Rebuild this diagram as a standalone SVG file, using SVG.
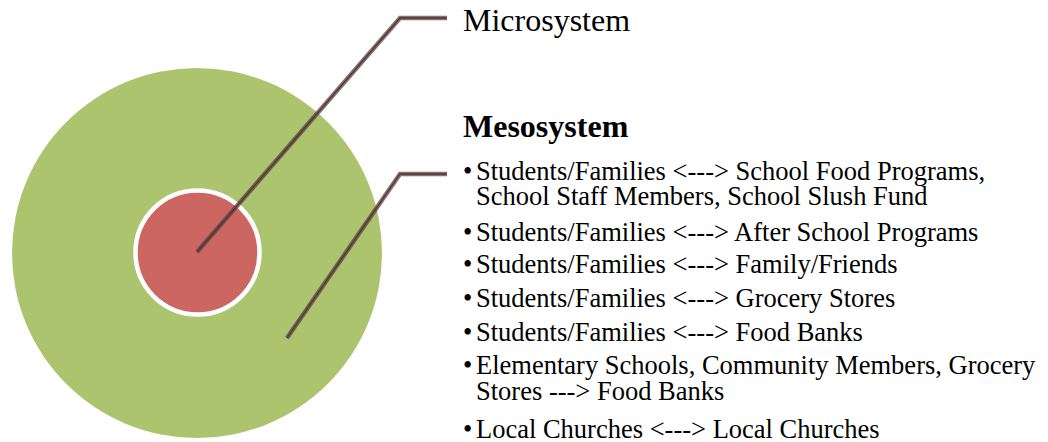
<svg xmlns="http://www.w3.org/2000/svg" width="1048" height="442" viewBox="0 0 1048 442">
<style>
text{font-family:"Liberation Serif","Times New Roman",serif;fill:#000}
.h{font-size:32px}
.b{font-size:32px;font-weight:bold}
.i{font-size:26.5px}
.lo{fill:none;stroke:#4a4a4a;stroke-opacity:0.75;stroke-width:4.5;stroke-linejoin:miter}
.li{fill:none;stroke:#6e2a26;stroke-width:1.3}
</style>
<rect width="1048" height="442" fill="#fff"/>
<g id="mesosystem-circle">
<circle cx="197" cy="253" r="185" fill="#acc46e"/>
</g>
<g id="microsystem-circle">
<circle cx="197.5" cy="252.5" r="62" fill="#cc6660" stroke="#fff" stroke-width="4.5"/>
</g>
<g id="connectors">
<polyline class="lo" points="197,252 400,18 447,18"/>
<polyline class="li" points="197,252 400,18 447,18"/>
<polyline class="lo" points="287,338 400,174 447,174"/>
<polyline class="li" points="287,338 400,174 447,174"/>
</g>
<g id="microsystem-label">
<text class="h" x="463" y="31">Microsystem</text>
</g>
<g id="mesosystem-label">
<text class="b" x="463" y="137">Mesosystem</text>
<text class="i" x="463" y="180">•</text><text class="i" x="476" y="180">Students/Families &lt;---&gt; School Food Programs,<tspan x="476" dy="25">School Staff Members, School Slush Fund</tspan></text>
<text class="i" x="463" y="241">•</text><text class="i" x="476" y="241">Students/Families &lt;---&gt; After School Programs</text>
<text class="i" x="463" y="273">•</text><text class="i" x="476" y="273">Students/Families &lt;---&gt; Family/Friends</text>
<text class="i" x="463" y="307">•</text><text class="i" x="476" y="307">Students/Families &lt;---&gt; Grocery Stores</text>
<text class="i" x="463" y="341">•</text><text class="i" x="476" y="341">Students/Families &lt;---&gt; Food Banks</text>
<text class="i" x="463" y="374">•</text><text class="i" x="476" y="374">Elementary Schools, Community Members, Grocery<tspan x="476" dy="26">Stores ---&gt; Food Banks</tspan></text>
<text class="i" x="463" y="438">•</text><text class="i" x="476" y="438">Local Churches &lt;---&gt; Local Churches</text>
</g>
</svg>
